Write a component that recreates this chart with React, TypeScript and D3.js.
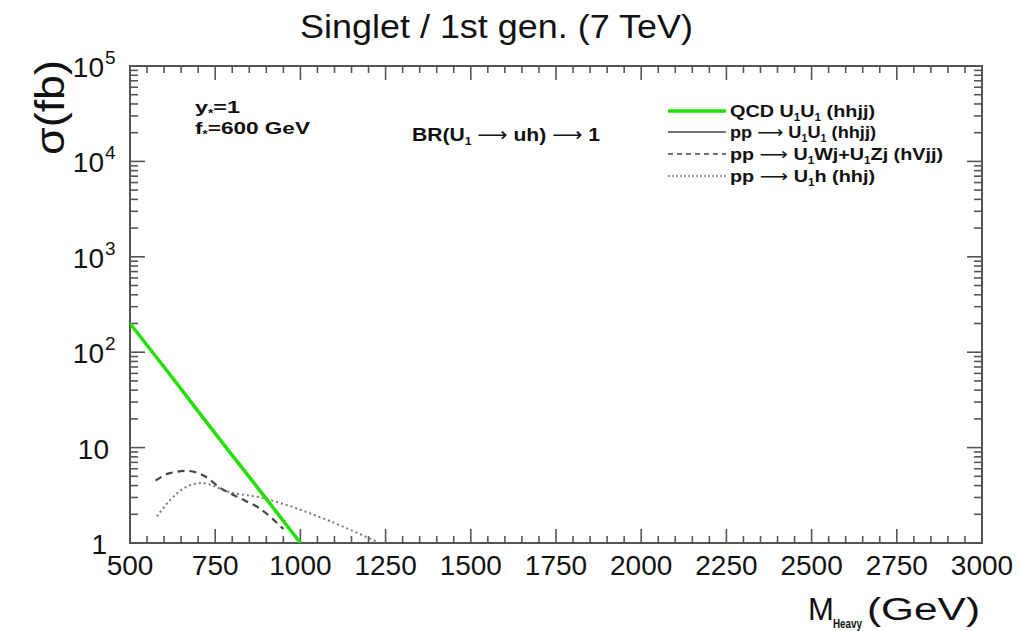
import React, { useEffect, useRef } from 'react';
import * as d3 from 'd3';

// QCD pair production U1U1 (hhjj)
const massQCD = [500, 600, 700, 800, 900, 1000];
const sigmaQCD = [200, 70, 24, 8.3, 2.9, 1.0];

// pp -> U1Wj + U1Zj (hVjj)
const massUV = [575, 617, 667, 720, 764, 823, 881, 950];
const sigmaUV = [4.5, 5.4, 5.7, 5.0, 3.8, 2.95, 2.3, 1.4];

// pp -> U1h (hhj)
const massUh = [579, 617, 667, 711, 793, 881, 1057, 1195, 1225];
const sigmaUh = [1.9, 2.8, 3.9, 4.25, 3.4, 3.0, 1.87, 1.15, 1.03];

const xTicks = [500, 750, 1000, 1250, 1500, 1750, 2000, 2250, 2500, 2750, 3000];
const yDecades = [1, 10, 100, 1000, 10000, 100000];
const yExponents = ['', '', '2', '3', '4', '5'];

const W = 1020;
const H = 631;
const margin = { left: 130, right: 38, top: 66, bottom: 88 };
const FONT = '"Liberation Sans", Arial, Helvetica, sans-serif';
const ARROW_FONT = '"DejaVu Sans", sans-serif';

type Part = [string, 'n' | 's' | 'a'];

const App: React.FC = () => {
  const svgRef = useRef<SVGSVGElement>(null);

  useEffect(() => {
    if (!svgRef.current) return;
    const svg = d3.select(svgRef.current);
    svg.selectAll('*').remove();

    const x0 = margin.left;
    const x1 = W - margin.right;
    const y0 = H - margin.bottom;
    const y1 = margin.top;

    const x = d3.scaleLinear().domain([500, 3000]).range([x0, x1]);
    const y = d3.scaleLog().domain([1, 100000]).range([y0, y1]);

    const axisColor = '#555';

    svg.append('defs').append('clipPath').attr('id', 'plot-clip')
      .append('rect')
      .attr('x', x0).attr('y', y1)
      .attr('width', x1 - x0).attr('height', y0 - y1);

    // frame
    svg.append('rect')
      .attr('x', x0).attr('y', y1)
      .attr('width', x1 - x0).attr('height', y0 - y1)
      .style('fill', 'none')
      .style('stroke', axisColor)
      .style('stroke-width', 2);

    // x ticks (bottom + top)
    const xMinor = d3.range(500, 3001, 50);
    const ticksG = svg.append('g').style('stroke', axisColor).style('stroke-width', 1.6);
    xMinor.forEach(v => {
      const major = v % 250 === 0;
      const len = major ? 14 : 7;
      ticksG.append('line')
        .attr('x1', x(v)).attr('x2', x(v))
        .attr('y1', y0).attr('y2', y0 - len);
      ticksG.append('line')
        .attr('x1', x(v)).attr('x2', x(v))
        .attr('y1', y1).attr('y2', y1 + len);
    });

    // y ticks (left + right)
    yDecades.forEach((d, i) => {
      if (i === yDecades.length - 1) return;
      for (let k = 1; k <= 9; k++) {
        const v = d * k;
        const len = k === 1 ? 15 : 8;
        ticksG.append('line')
          .attr('x1', x0).attr('x2', x0 + len)
          .attr('y1', y(v)).attr('y2', y(v));
        ticksG.append('line')
          .attr('x1', x1).attr('x2', x1 - len)
          .attr('y1', y(v)).attr('y2', y(v));
      }
    });

    // x tick labels
    svg.append('g').selectAll('text')
      .data(xTicks)
      .enter().append('text')
      .attr('x', d => x(d))
      .attr('y', y0 + 32)
      .attr('text-anchor', 'middle')
      .style('font-family', FONT)
      .style('font-size', '28px')
      .style('fill', '#111')
      .text(d => d);

    // y tick labels
    const yl = svg.append('g').style('font-family', FONT).style('fill', '#111');
    yDecades.forEach((d, i) => {
      const ty = y(d);
      if (d === 1) {
        yl.append('text').attr('x', 107).attr('y', ty + 11)
          .attr('text-anchor', 'end').style('font-size', '28px').text('1');
      } else if (d === 10) {
        yl.append('text').attr('x', 109).attr('y', ty + 11)
          .attr('text-anchor', 'end').style('font-size', '28px').text('10');
      } else {
        yl.append('text').attr('x', 104).attr('y', ty + 11)
          .attr('text-anchor', 'end').style('font-size', '28px').text('10');
        yl.append('text').attr('x', 105).attr('y', ty - 2)
          .attr('text-anchor', 'start').style('font-size', '19px').text(yExponents[i]);
      }
    });

    // axis titles
    svg.append('text')
      .attr('transform', `translate(64,60) rotate(-90)`)
      .attr('text-anchor', 'end')
      .attr('textLength', 95)
      .attr('lengthAdjust', 'spacingAndGlyphs')
      .style('font-family', FONT)
      .style('font-size', '40px')
      .style('fill', '#111')
      .text('σ(fb)');

    const xtitle = svg.append('g').style('font-family', FONT).style('fill', '#111');
    xtitle.append('text').attr('x', 808).attr('y', 620)
      .style('font-size', '31px').text('M');
    xtitle.append('text').attr('x', 833).attr('y', 628)
      .attr('textLength', 29).attr('lengthAdjust', 'spacingAndGlyphs')
      .style('font-size', '12px').style('font-weight', 'bold').text('Heavy');
    xtitle.append('text').attr('x', 867).attr('y', 620)
      .attr('textLength', 113).attr('lengthAdjust', 'spacingAndGlyphs')
      .style('font-size', '31px').text('(GeV)');

    // title
    svg.append('text')
      .attr('x', 300).attr('y', 38)
      .attr('textLength', 393)
      .attr('lengthAdjust', 'spacingAndGlyphs')
      .style('font-family', FONT)
      .style('font-size', '33px')
      .style('fill', '#111')
      .text('Singlet / 1st gen. (7 TeV)');

    // curves
    const line = (xs: number[], ys: number[]) =>
      d3.line<number>()
        .x((_, i) => x(xs[i]))
        .y((_, i) => y(ys[i]))
        .curve(d3.curveMonotoneX)(xs) as string;

    const curves = svg.append('g').attr('clip-path', 'url(#plot-clip)');
    curves.append('path')
      .attr('d', line(massUh, sigmaUh))
      .style('fill', 'none')
      .style('stroke', '#777')
      .style('stroke-width', 2)
      .style('stroke-dasharray', '2,3');
    curves.append('path')
      .attr('d', line(massUV, sigmaUV))
      .style('fill', 'none')
      .style('stroke', '#444')
      .style('stroke-width', 2.2)
      .style('stroke-dasharray', '7,5');
    curves.append('path')
      .attr('d', line(massQCD, sigmaQCD))
      .style('fill', 'none')
      .style('stroke', '#22e000')
      .style('stroke-width', 3.5);

    // rich text with subscripts and long arrows
    const rich = (tx: number, ty: number, size: number, parts: Part[], width?: number) => {
      const t = svg.append('text')
        .attr('x', tx).attr('y', ty)
        .style('font-family', FONT)
        .style('font-weight', 'bold')
        .style('font-size', `${size}px`)
        .style('fill', '#111');
      if (width) t.attr('textLength', width).attr('lengthAdjust', 'spacingAndGlyphs');
      let sub = false;
      parts.forEach(([s, kind]) => {
        const ts = t.append('tspan').text(s);
        if (kind === 's') {
          ts.style('font-size', `${Math.round(size * 0.6)}px`);
          if (!sub) ts.attr('dy', size * 0.22);
          sub = true;
        } else {
          if (sub) ts.attr('dy', -size * 0.22);
          sub = false;
          if (kind === 'a') ts.style('font-family', ARROW_FONT).style('font-weight', 'normal');
        }
      });
      return t;
    };

    rich(195, 113, 17, [['y', 'n'], ['*', 's'], ['=1', 'n']], 45);
    rich(195, 134, 17, [['f', 'n'], ['*', 's'], ['=600 GeV', 'n']], 115);
    rich(412, 141, 19, [['BR(U', 'n'], ['1', 's'], [' ', 'n'], ['⟶', 'a'], [' uh) ', 'n'], ['⟶', 'a'], [' 1', 'n']], 188);

    // legend
    const legendRows: { y: number; stroke: string; width: number; dash: string | null; parts: Part[]; len: number }[] = [
      { y: 111, stroke: '#22e000', width: 3.5, dash: null, len: 145,
        parts: [['QCD U', 'n'], ['1', 's'], ['U', 'n'], ['1', 's'], [' (hhjj)', 'n']] },
      { y: 132, stroke: '#444', width: 1.5, dash: null, len: 146,
        parts: [['pp ', 'n'], ['⟶', 'a'], [' U', 'n'], ['1', 's'], ['U', 'n'], ['1', 's'], [' (hhjj)', 'n']] },
      { y: 154, stroke: '#444', width: 1.6, dash: '5,4', len: 213,
        parts: [['pp ', 'n'], ['⟶', 'a'], [' U', 'n'], ['1', 's'], ['Wj+U', 'n'], ['1', 's'], ['Zj (hVjj)', 'n']] },
      { y: 176, stroke: '#777', width: 1.6, dash: '2,2', len: 145,
        parts: [['pp ', 'n'], ['⟶', 'a'], [' U', 'n'], ['1', 's'], ['h (hhj)', 'n']] }
    ];
    legendRows.forEach(r => {
      svg.append('line')
        .attr('x1', 668).attr('x2', 726)
        .attr('y1', r.y).attr('y2', r.y)
        .style('stroke', r.stroke)
        .style('stroke-width', r.width)
        .style('stroke-dasharray', r.dash || 'none');
      rich(730, r.y + 6, 17, r.parts, r.len);
    });
  }, []);

  return (
    <svg
      ref={svgRef}
      width={W}
      height={H}
      style={{ position: 'absolute', left: 0, top: 0, background: '#fff' }}
    />
  );
};

export default App;
